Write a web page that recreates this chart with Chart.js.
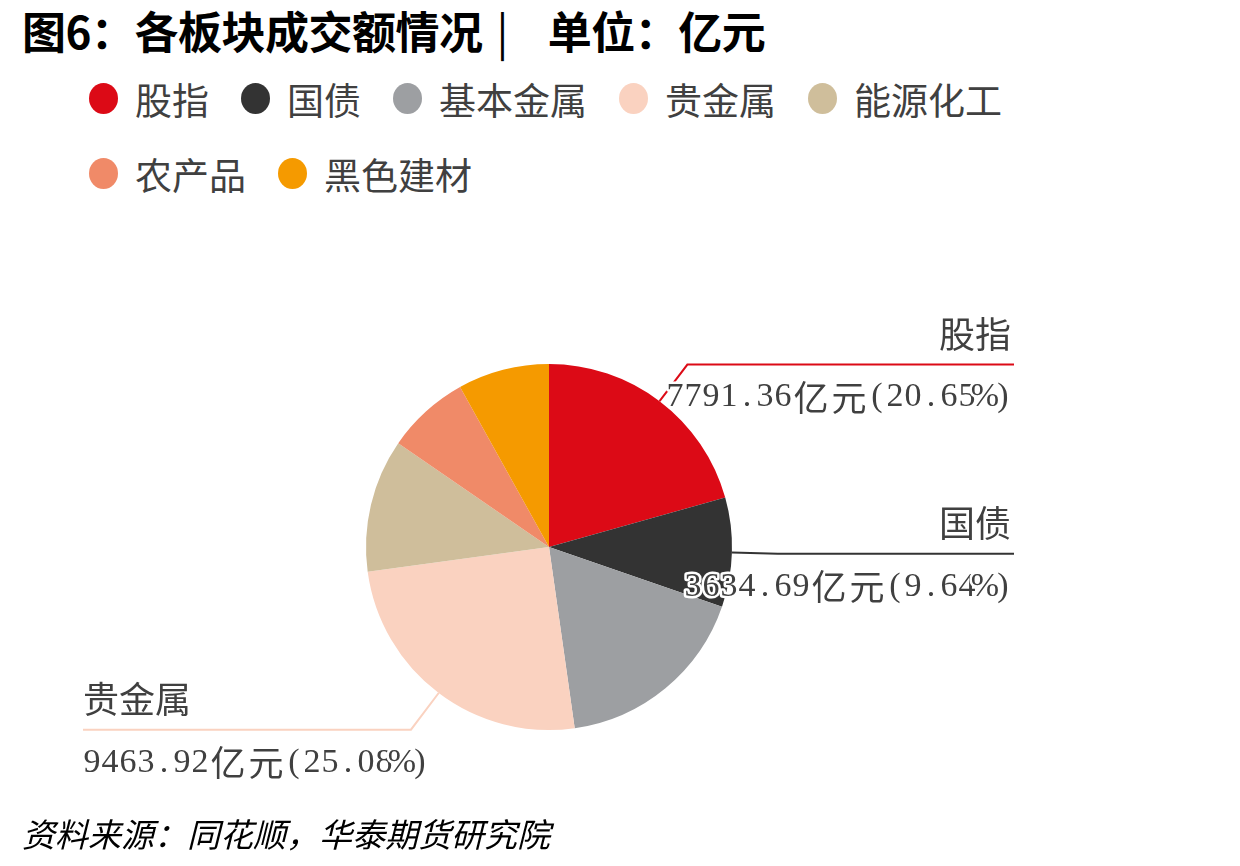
<!DOCTYPE html>
<html>
<head>
<meta charset="utf-8">
<script src="https://cdn.jsdelivr.net/npm/chart.js@4/dist/chart.umd.min.js"></script>
<style>
    body { margin: 0; width: 1240px; height: 866px; overflow: hidden; background: #fff; position: relative; }
    #title { position: absolute; left: 22px; top: 6px; font: bold 44px 'Noto Sans CJK SC', sans-serif; line-height: 48px; color: #000; white-space: nowrap; letter-spacing: -0.5px; }
    #title .bar { font-weight: normal; margin: 0 40px 0 14px; }
    #legend { position: absolute; left: 89px; top: 61px; width: 1000px; display: flex; flex-wrap: wrap;
              font: 37px 'Noto Sans CJK SC', sans-serif; color: #404040; }
    #legend .item { display: flex; align-items: center; height: 75px; margin-right: 32px; }
    #legend .dot { display: inline-block; width: 29px; height: 31px; border-radius: 50%; margin-right: 17px; }
    #source { position: absolute; left: 22px; top: 815px; font: italic 33px 'Noto Sans CJK SC', sans-serif; line-height: 36px; color: #000; }
    #pie { position: absolute; left: 0; top: 0; }
</style>
</head>
<body>
<div id="title">图6：各板块成交额情况<span class="bar">|</span>单位：亿元</div>
<div id="legend"></div>
<canvas id="pie" width="1240" height="866"></canvas>
<div id="source">资料来源：同花顺，华泰期货研究院</div>
<script>
// 板块数据 (亿元)
const categories = ['股指', '国债', '基本金属', '贵金属', '能源化工', '农产品', '黑色建材'];
const values = [7791.36, 3634.69, 6591, 9463.92, 4433, 2765, 3048];
const shares = [20.65, 9.64, 17.47, 25.08, 11.75, 7.33, 8.08]; // 图上标注的占比(%)
const showLabel = [true, true, false, true, false, false, false];
const colors = ['#dc0a16', '#333333', '#9d9fa2', '#fad2c0', '#cfbe9b', '#f08a68', '#f59a00'];

// 图例
const legendBox = document.getElementById('legend');
categories.forEach((name, i) => {
    const item = document.createElement('div');
    item.className = 'item';
    item.innerHTML = `<span class="dot" style="background:${colors[i]}"></span><span>${name}</span>`;
    legendBox.appendChild(item);
});

// 半角字符按等宽格子绘制 (模仿宋体)
function cellWidth(ch) {
    return ch.charCodeAt(0) < 128 ? 18 : 38;
}
function drawMonoText(ctx, str, x, y, align, halo) {
    const chars = Array.from(str);
    const total = chars.reduce((s, c) => s + cellWidth(c), 0);
    let cx = align === 'right' ? x - total : x;
    ctx.save();
    ctx.textAlign = 'center';
    ctx.textBaseline = 'middle';
    ctx.lineJoin = 'round';
    chars.forEach(c => {
        const w = cellWidth(c);
        ctx.font = w === 18 ? "34px 'Liberation Serif'" : "35px 'Noto Sans CJK SC'";
        if (halo) {
            ctx.strokeStyle = '#fff';
            ctx.lineWidth = 5;
            ctx.strokeText(c, cx + w / 2, y);
        }
        ctx.fillStyle = '#404040';
        ctx.fillText(c, cx + w / 2, y);
        cx += w;
    });
    ctx.restore();
}

// 扇区标签和引导线
const sliceLabels = {
    id: 'sliceLabels',
    afterDatasetsDraw(chart) {
        const ctx = chart.ctx;
        const arcs = chart.getDatasetMeta(0).data;
        arcs.forEach((arc, i) => {
            if (!showLabel[i]) return;
            const p = arc.getProps(['x', 'y', 'startAngle', 'endAngle', 'outerRadius'], true);
            const mid = (p.startAngle + p.endAngle) / 2;
            const x0 = p.x + Math.cos(mid) * p.outerRadius;
            const y0 = p.y + Math.sin(mid) * p.outerRadius;
            const r1 = p.outerRadius + 46;
            const x1 = p.x + Math.cos(mid) * r1;
            const y1 = p.y + Math.sin(mid) * r1;
            const right = Math.cos(mid) >= 0;
            const xEnd = right ? p.x + 465 : p.x - 466;

            ctx.save();
            ctx.strokeStyle = colors[i];
            ctx.lineWidth = 2;
            ctx.beginPath();
            ctx.moveTo(x0, y0);
            ctx.lineTo(x1, y1);
            ctx.lineTo(xEnd, y1);
            ctx.stroke();

            ctx.font = "36px 'Noto Sans CJK SC'";
            ctx.fillStyle = '#404040';
            ctx.textBaseline = 'middle';
            ctx.textAlign = right ? 'right' : 'left';
            ctx.fillText(categories[i], right ? xEnd - 3 : xEnd, y1 - 30);
            ctx.restore();

            const text = `${values[i].toFixed(2)}亿元(${shares[i].toFixed(2)}%)`;
            drawMonoText(ctx, text, right ? xEnd - 2 : xEnd, y1 + 33, right ? 'right' : 'left', true);
        });
    }
};

const ctx = document.getElementById('pie').getContext('2d');
new Chart(ctx, {
    type: 'pie',
    data: {
        labels: categories,
        datasets: [{
            data: values,
            backgroundColor: colors,
            borderWidth: 0,
            hoverOffset: 0
        }]
    },
    options: {
        responsive: false,
        animation: false,
        devicePixelRatio: 1,
        radius: 183,
        layout: { padding: { left: 0, right: 142, top: 300, bottom: 72 } },
        plugins: {
            legend: { display: false },
            title: { display: false },
            tooltip: { enabled: false }
        }
    },
    plugins: [sliceLabels]
});
</script>
</body>
</html>
